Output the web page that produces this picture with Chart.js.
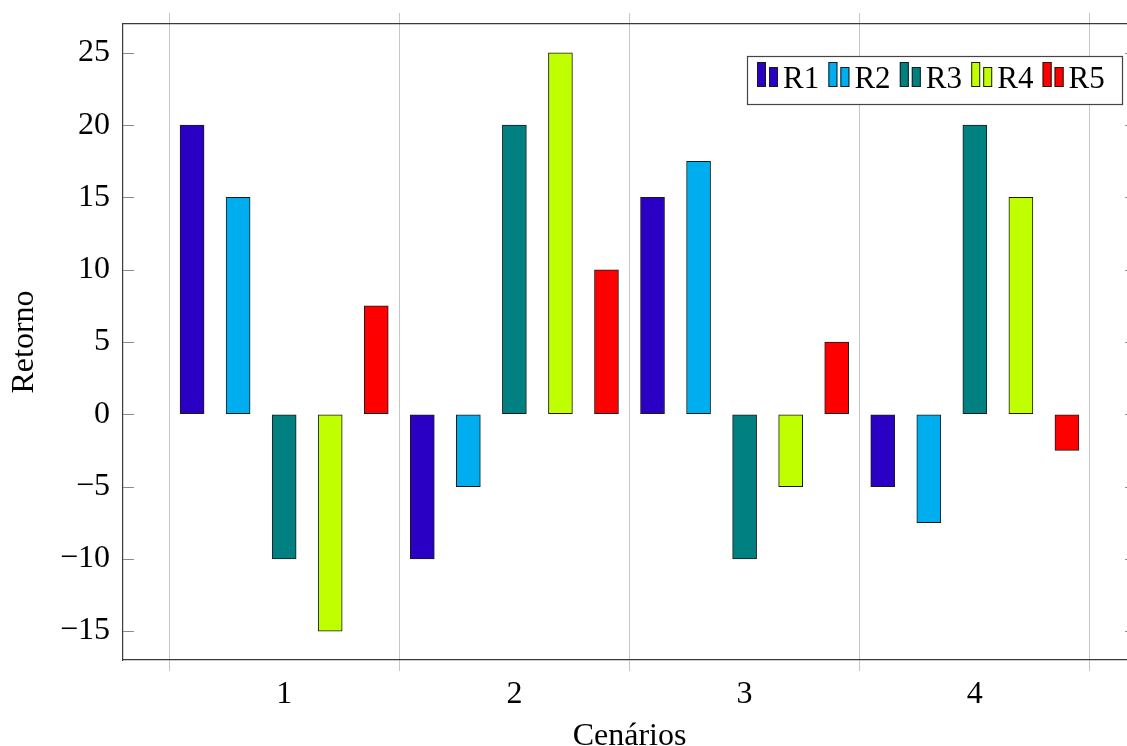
<!DOCTYPE html>
<html>
<head>
<meta charset="utf-8">
<script src="https://cdn.jsdelivr.net/npm/chart.js@4"></script>
<style>
  html, body { margin: 0; padding: 0; overflow: hidden; background: #fff; width: 1127px; height: 746px; }
  #wrap { position: absolute; left: 0; top: 0; width: 1160px; height: 770px; }
</style>
</head>
<body>
<div id="wrap"><canvas id="c" width="1160" height="770"></canvas></div>
<script>
// ---- data ----
const categories = [1, 2, 3, 4];
const xTickLabels = ['1', '2', '3', '4'];
const seriesNames = ['R1', 'R2', 'R3', 'R4', 'R5'];
const r1 = [20, -10, 15, -5];
const r2 = [15, -5, 17.5, -7.5];
const r3 = [-10, 20, -10, 20];
const r4 = [-15, 25, -5, 15];
const r5 = [7.5, 10, 5, -2.5];
const yTickValues = [-15, -10, -5, 0, 5, 10, 15, 20, 25];

// ---- styles ----
const seriesColors = ['#2b00c5', '#00aeef', '#008080', '#bfff00', '#ff0000'];
const seriesValues = [r1, r2, r3, r4, r5];
const groupStep = 0.2;
const FONT = "'Liberation Serif', 'Times New Roman', serif";
const GRID = '#c6c6c6';
const AXIS = '#3a3a3a';

Chart.defaults.font.family = FONT;
Chart.defaults.color = '#000';

const datasets = seriesValues.map((vals, i) => ({
  label: seriesNames[i],
  data: categories.map((c, j) => ({ x: c + (i - (seriesNames.length - 1) / 2) * groupStep, y: vals[j] })),
  backgroundColor: seriesColors[i],
  borderColor: '#1a1a1a',
  borderWidth: 1,
  borderSkipped: false,
  grouped: false,
  barPercentage: 1,
  categoryPercentage: 1,
  maxBarThickness: 24
}));

function xTicks(scale) {
  const t = [];
  categories.forEach(c => { t.push({ value: c - 0.5 }); t.push({ value: c }); });
  t.push({ value: categories[categories.length - 1] + 0.5 });
  scale.ticks = t;
}
const gridColor = (ctx) => (ctx.tick && Number.isInteger(ctx.tick.value)) ? 'rgba(0,0,0,0)' : GRID;

const innerTicks = {
  id: 'innerTicks',
  afterDatasetsDraw(chart) {
    const { ctx, chartArea: a, scales } = chart;
    ctx.save();
    ctx.strokeStyle = '#8a8a8a';
    ctx.lineWidth = 1;
    yTickValues.forEach(v => {
      const y = Math.round(scales.y.getPixelForValue(v)) + 0.5;
      ctx.beginPath();
      ctx.moveTo(a.left, y); ctx.lineTo(a.left + 11, y);
      ctx.moveTo(a.right - 11, y); ctx.lineTo(a.right, y);
      ctx.stroke();
    });
    ctx.restore();
  }
};

const boxLegend = {
  id: 'boxLegend',
  afterDraw(chart) {
    const { ctx } = chart;
    const L = 747, T = 56, R = 1122, B = 104;
    ctx.save();
    ctx.fillStyle = '#fff';
    ctx.fillRect(L, T, R - L, B - T);
    ctx.strokeStyle = '#444';
    ctx.lineWidth = 1.2;
    ctx.strokeRect(L + 0.5, T + 0.5, R - L, B - T);
    chart.data.datasets.forEach((ds, i) => {
      const x0 = 757 + i * 71.4;
      ctx.fillStyle = ds.backgroundColor;
      ctx.strokeStyle = '#1a1a1a';
      ctx.lineWidth = 1;
      ctx.fillRect(x0, 62, 9, 25);
      ctx.strokeRect(x0 + 0.5, 62.5, 8, 24);
      ctx.fillRect(x0 + 12, 67, 9, 20);
      ctx.strokeRect(x0 + 12.5, 67.5, 8, 19);
      ctx.fillStyle = '#000';
      ctx.font = '31px ' + FONT;
      ctx.textAlign = 'left';
      ctx.textBaseline = 'alphabetic';
      ctx.fillText(ds.label, x0 + 26, 88);
    });
    ctx.restore();
  }
};

new Chart(document.getElementById('c'), {
  type: 'bar',
  data: { datasets },
  plugins: [innerTicks, boxLegend],
  options: {
    responsive: false,
    animation: false,
    devicePixelRatio: 1,
    layout: { padding: { left: 0, right: 24, top: 0, bottom: 0 } },
    plugins: { legend: { display: false }, tooltip: { enabled: false } },
    scales: {
      x: {
        type: 'linear',
        position: 'bottom',
        min: 0.3,
        max: 4.7,
        offset: false,
        afterBuildTicks: xTicks,
        afterFit(s) { s.height = 110; s.paddingLeft = 0; s.paddingRight = 0; },
        grid: { color: gridColor, lineWidth: 1, offset: false, drawTicks: true, tickLength: 11 },
        border: { display: true, color: AXIS, width: 1.2 },
        ticks: {
          autoSkip: false, maxRotation: 0, padding: 4,
          font: { size: 32 },
          callback: (v) => { const k = categories.indexOf(v); return k >= 0 ? xTickLabels[k] : ''; }
        },
        title: { display: true, text: 'Cenários', font: { size: 32 }, padding: { top: 0, bottom: 14 } }
      },
      x2: {
        type: 'linear',
        position: 'top',
        min: 0.3,
        max: 4.7,
        offset: false,
        afterBuildTicks: xTicks,
        afterFit(s) { s.height = 24; s.paddingLeft = 0; s.paddingRight = 0; },
        grid: { color: gridColor, lineWidth: 1, offset: false, drawOnChartArea: false, drawTicks: true, tickLength: 11 },
        border: { display: true, color: AXIS, width: 1.2 },
        ticks: { display: false }
      },
      y: {
        type: 'linear',
        position: 'left',
        min: -17,
        max: 27,
        afterBuildTicks(s) { s.ticks = yTickValues.map(v => ({ value: v })); },
        afterFit(s) { s.width = 123; s.paddingTop = 0; s.paddingBottom = 0; },
        grid: { drawOnChartArea: false, drawTicks: false },
        border: { display: true, color: AXIS, width: 1.2 },
        ticks: {
          padding: 13,
          font: { size: 32 },
          callback: (v) => v < 0 ? '\u2212' + Math.abs(v) : String(v)
        },
        title: { display: true, text: 'Retorno', font: { size: 32 }, padding: { top: 5, bottom: 0 } }
      }
    }
  }
});
</script>
</body>
</html>
